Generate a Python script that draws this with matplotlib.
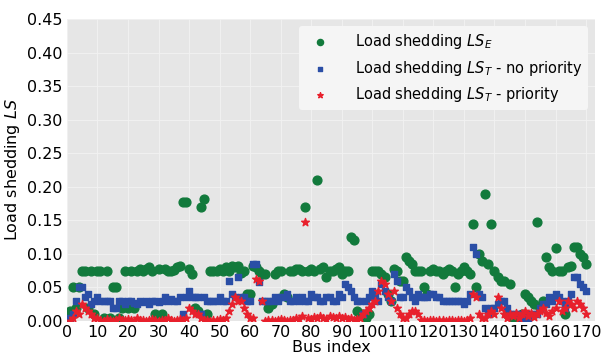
import numpy as np
import matplotlib
matplotlib.use("Agg")
import matplotlib.pyplot as plt

# bus indices
buses = list(range(1, 171))

# Load shedding LS_E
ls_e = [
    0.015, 0.05, 0.02, 0.05, 0.075, 0.075, 0.02, 0.075, 0.01, 0.075,
    0.075, 0.005, 0.075, 0.005, 0.05, 0.05, 0.005, 0.02, 0.075, 0.02,
    0.075, 0.02, 0.075, 0.078, 0.075, 0.077, 0.08, 0.075, 0.01, 0.078,
    0.01, 0.078, 0.075, 0.075, 0.076, 0.08, 0.082, 0.178, 0.178, 0.078,
    0.07, 0.02, 0.015, 0.17, 0.182, 0.01, 0.075, 0.075, 0.075, 0.078,
    0.075, 0.08, 0.075, 0.082, 0.08, 0.082, 0.072, 0.075, 0.04, 0.04,
    0.082, 0.08, 0.075, 0.07, 0.07, 0.02, 0.025, 0.07, 0.075, 0.075,
    0.04, 0.035, 0.075, 0.075, 0.078, 0.078, 0.075, 0.17, 0.075, 0.078,
    0.075, 0.21, 0.078, 0.08, 0.065, 0.075, 0.075, 0.078, 0.08, 0.07,
    0.075, 0.075, 0.125, 0.12, 0.015, 0.01, 0.01, 0.005, 0.01, 0.075,
    0.075, 0.075, 0.07, 0.065, 0.04, 0.03, 0.078, 0.075, 0.06, 0.06,
    0.095, 0.09, 0.085, 0.075, 0.075, 0.075, 0.05, 0.04, 0.075, 0.078,
    0.075, 0.075, 0.07, 0.075, 0.078, 0.075, 0.05, 0.07, 0.075, 0.08,
    0.075, 0.07, 0.145, 0.05, 0.1, 0.09, 0.19, 0.085, 0.145, 0.075,
    0.065, 0.06, 0.06, 0.01, 0.055, 0.005, 0.005, 0.005, 0.01, 0.04,
    0.035, 0.03, 0.025, 0.148, 0.02, 0.03, 0.095, 0.08, 0.075, 0.108,
    0.075, 0.075, 0.01, 0.08, 0.082, 0.11, 0.11, 0.1, 0.095, 0.085,
]

# Load shedding LS_T without priority
ls_t_np = [
    0.005, 0.01, 0.03, 0.05, 0.05, 0.035, 0.04, 0.025, 0.03, 0.035,
    0.03, 0.03, 0.03, 0.03, 0.02, 0.02, 0.03, 0.03, 0.025, 0.03,
    0.03, 0.027, 0.025, 0.03, 0.028, 0.03, 0.025, 0.03, 0.03, 0.028,
    0.03, 0.035, 0.03, 0.032, 0.03, 0.03, 0.035, 0.01, 0.035, 0.045,
    0.035, 0.035, 0.035, 0.01, 0.035, 0.03, 0.03, 0.03, 0.03, 0.035,
    0.03, 0.03, 0.06, 0.04, 0.035, 0.065, 0.035, 0.035, 0.03, 0.03,
    0.085, 0.085, 0.058, 0.03, 0.03, 0.03, 0.03, 0.035, 0.03, 0.035,
    0.035, 0.04, 0.03, 0.03, 0.035, 0.03, 0.035, 0.03, 0.03, 0.04,
    0.035, 0.035, 0.03, 0.03, 0.035, 0.035, 0.03, 0.03, 0.04, 0.035,
    0.055, 0.05, 0.045, 0.035, 0.03, 0.03, 0.01, 0.03, 0.035, 0.045,
    0.035, 0.03, 0.055, 0.045, 0.035, 0.03, 0.07, 0.06, 0.035, 0.035,
    0.05, 0.045, 0.035, 0.03, 0.04, 0.035, 0.035, 0.035, 0.04, 0.04,
    0.035, 0.035, 0.03, 0.03, 0.03, 0.03, 0.03, 0.03, 0.03, 0.025,
    0.03, 0.04, 0.11, 0.1, 0.04, 0.035, 0.02, 0.01, 0.02, 0.02,
    0.025, 0.03, 0.03, 0.02, 0.01, 0.01, 0.01, 0.01, 0.005, 0.01,
    0.005, 0.01, 0.01, 0.01, 0.02, 0.025, 0.025, 0.035, 0.03, 0.04,
    0.035, 0.03, 0.02, 0.03, 0.04, 0.065, 0.065, 0.055, 0.05, 0.045,
]

# Load shedding LS_T with priority
ls_t_p = [
    0.0, 0.005, 0.015, 0.01, 0.025, 0.02, 0.015, 0.01, 0.005, 0.005,
    0.002, 0.0, 0.003, 0.001, 0.0, 0.002, 0.004, 0.001, 0.002, 0.003,
    0.001, 0.0, 0.004, 0.002, 0.001, 0.0, 0.002, 0.003, 0.001, 0.0,
    0.002, 0.001, 0.004, 0.002, 0.0, 0.001, 0.003, 0.002, 0.005, 0.02,
    0.015, 0.01, 0.01, 0.004, 0.002, 0.001, 0.0, 0.002, 0.001, 0.003,
    0.002, 0.004, 0.015, 0.025, 0.035, 0.03, 0.03, 0.02, 0.01, 0.005,
    0.005, 0.062, 0.06, 0.03, 0.0, 0.001, 0.002, 0.0, 0.001, 0.003,
    0.002, 0.0, 0.001, 0.002, 0.004, 0.003, 0.008, 0.148, 0.005, 0.003,
    0.006, 0.004, 0.008, 0.005, 0.003, 0.007, 0.006, 0.004, 0.008, 0.005,
    0.006, 0.003, 0.004, 0.002, 0.003, 0.005, 0.01, 0.015, 0.02, 0.025,
    0.03, 0.045, 0.06, 0.055, 0.04, 0.03, 0.045, 0.02, 0.01, 0.005,
    0.005, 0.01, 0.015, 0.015, 0.01, 0.002, 0.001, 0.0, 0.002, 0.001,
    0.0, 0.002, 0.001, 0.0, 0.001, 0.002, 0.0, 0.001, 0.002, 0.0,
    0.001, 0.005, 0.04, 0.035, 0.01, 0.005, 0.005, 0.01, 0.015, 0.01,
    0.035, 0.02, 0.01, 0.005, 0.01, 0.008, 0.012, 0.005, 0.01, 0.015,
    0.008, 0.012, 0.006, 0.01, 0.015, 0.02, 0.012, 0.008, 0.015, 0.02,
    0.03, 0.015, 0.02, 0.03, 0.025, 0.02, 0.03, 0.025, 0.02, 0.01,
]

fig = plt.figure(figsize=(6.08, 3.61), dpi=100)
ax = fig.add_axes([0.11, 0.111, 0.869, 0.836])
ax.set_facecolor("#e6e6e6")
for s in ax.spines.values():
    s.set_visible(False)
ax.grid(True, color="#f2f2f2", linewidth=0.6)
ax.set_axisbelow(True)

ax.scatter(buses, ls_e, s=40, marker="o", color="#127a3c", label="Load shedding $LS_E$", zorder=3)
ax.scatter(buses, ls_t_np, s=18, marker="s", color="#2a4ea6", label="Load shedding $LS_T$ - no priority", zorder=4)
ax.scatter(buses, ls_t_p, s=34, marker="*", color="#e8202c", label="Load shedding $LS_T$ - priority", zorder=5)

ax.set_xlim(0, 173)
ax.set_ylim(0, 0.45)
ax.set_xticks(np.arange(0, 171, 10))
ax.set_yticks(np.arange(0, 0.451, 0.05))
ax.yaxis.set_major_formatter(matplotlib.ticker.FormatStrFormatter("%.2f"))
ax.tick_params(length=0, labelsize=11.5, pad=3)
ax.set_xlabel("Bus index", fontsize=11.5, labelpad=0)
ax.set_ylabel("Load shedding $LS$", fontsize=11.5)

leg = ax.legend(loc="upper right", fontsize=10.5, frameon=True, facecolor="#f5f5f5",
                edgecolor="none", framealpha=1.0, handletextpad=1.4, markerscale=0.7)

fig.savefig("out.png", dpi=100)
